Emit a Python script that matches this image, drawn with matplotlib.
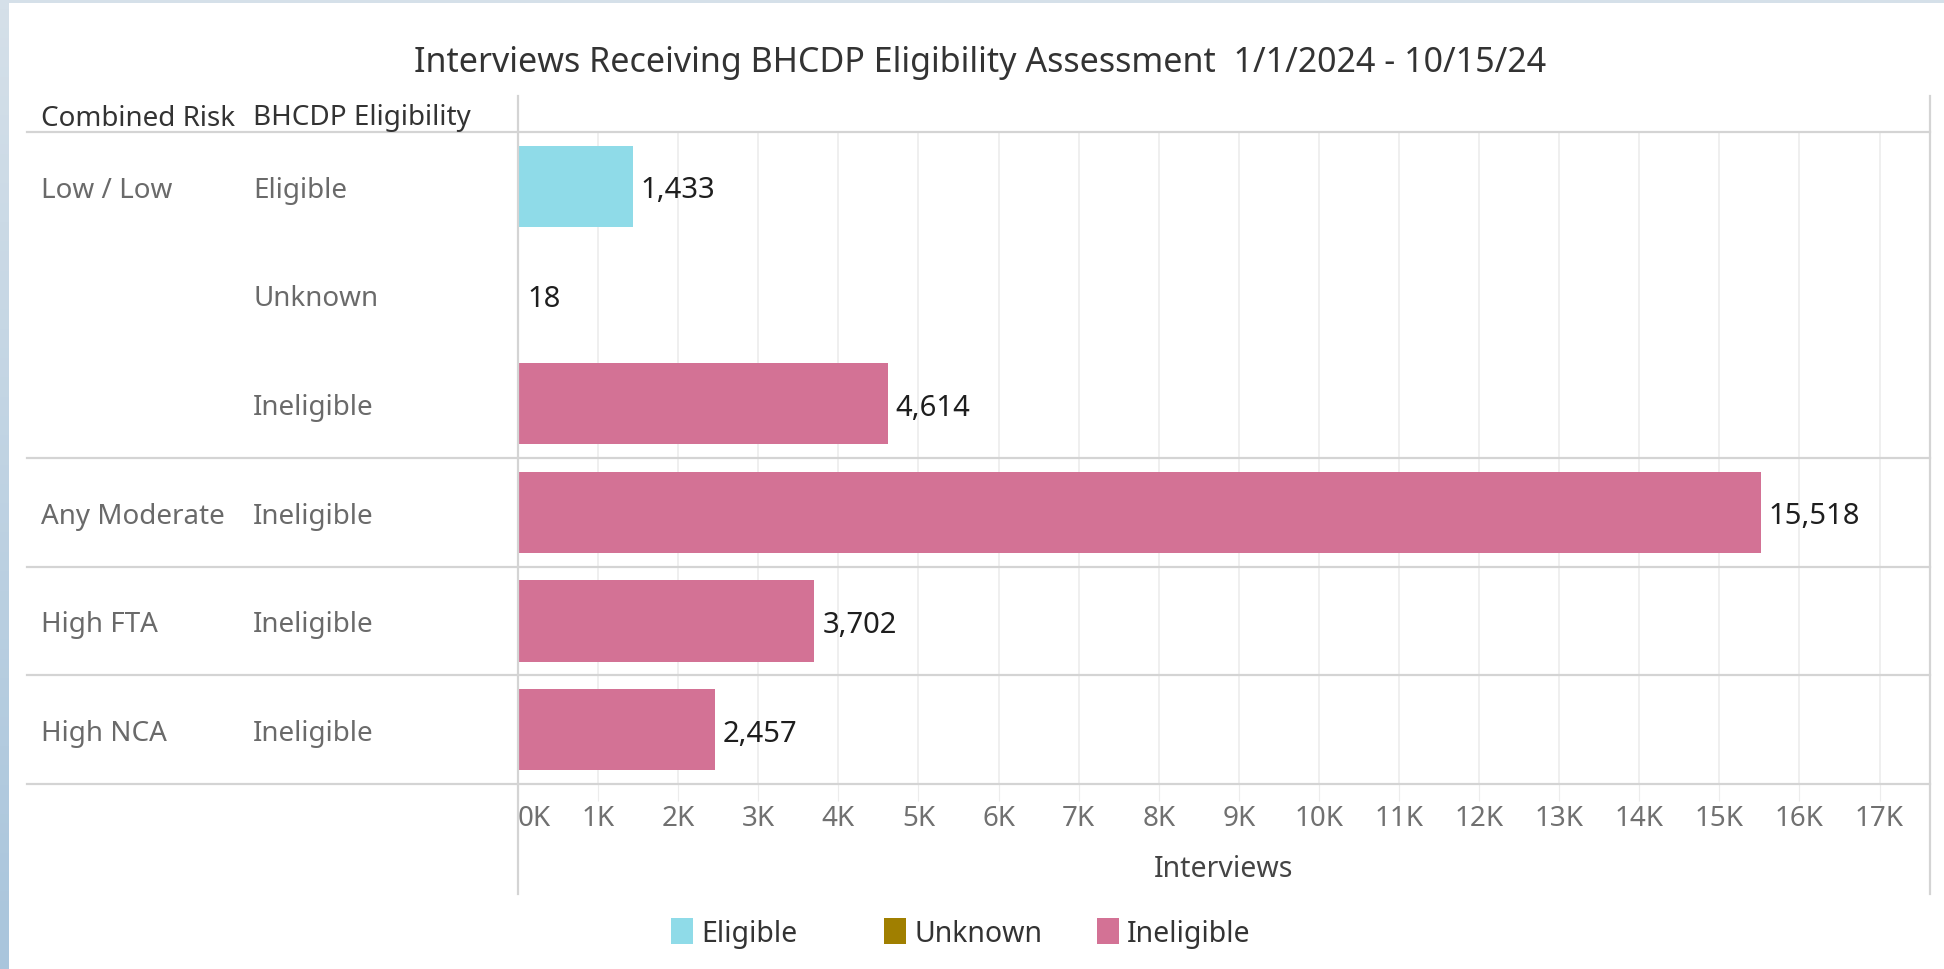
import matplotlib.pyplot as plt
import matplotlib.transforms as mtransforms
from matplotlib.lines import Line2D
from matplotlib.patches import Patch
from matplotlib.colors import LinearSegmentedColormap
import numpy as np

plt.rcParams['font.family'] = ['Noto Sans', 'DejaVu Sans']

# data
risk_groups = ['Low / Low', '', '', 'Any Moderate', 'High FTA', 'High NCA']
eligibility = ['Eligible', 'Unknown', 'Ineligible', 'Ineligible', 'Ineligible', 'Ineligible']
interviews = [1433, 18, 4614, 15518, 3702, 2457]
legend_labels = ['Eligible', 'Unknown', 'Ineligible']
colors = {'Eligible': '#8fdbe8', 'Unknown': '#a07f00', 'Ineligible': '#d37295'}
title = 'Interviews Receiving BHCDP Eligibility Assessment  1/1/2024 - 10/15/24'
group_ends = [2.5, 3.5, 4.5]

W, H = 1944, 970
fig = plt.figure(figsize=(W/100, H/100), dpi=100)
fig.patch.set_facecolor('white')

# blue-grey frame of the dashboard
top = fig.add_axes([0, 1 - 4/H, 1, 4/H])
top.set_axis_off()
top.add_patch(plt.Rectangle((0, 0), 1, 1, color='#d5e0e9', transform=top.transAxes))
side = fig.add_axes([0, 0, 8/W, 1])
side.imshow(np.linspace(0, 1, 100).reshape(-1, 1),
            cmap=LinearSegmentedColormap.from_list('bg', ['#d5e0e9', '#a9c5dc']),
            aspect='auto', extent=(0, 1, 0, 1))
side.set_axis_off()

x0, x1 = 518/W, 1930/W
y_top, y_bot = 1 - 133/H, 1 - 785/H
ax = fig.add_axes([x0, y_bot, x1 - x0, y_top - y_bot])

ypos = np.arange(len(interviews))
bar_cols = [colors[e] for e in eligibility]
ax.barh(ypos, interviews, height=0.75, color=bar_cols, zorder=3)
ax.set_ylim(len(interviews) - 0.5, -0.5)
ax.set_xlim(0, 17630)

for y, v in zip(ypos, interviews):
    ax.text(v + 100, y, '{:,}'.format(v), va='center_baseline', ha='left', fontsize=21, color='#1e1e1e', zorder=4)

ax.set_xticks(np.arange(0, 18000, 1000))
ax.set_xticklabels(['{}K'.format(k) for k in range(18)], fontsize=20, color='#707070')
ax.get_xticklabels()[0].set_horizontalalignment('left')
ax.tick_params(axis='x', length=12, color='#ececec', pad=2.5)
ax.tick_params(axis='y', left=False, labelleft=False)
ax.grid(axis='x', color='#ececec', lw=1.2, zorder=0)
for s in ax.spines.values():
    s.set_visible(False)
ax.set_xlabel('Interviews', fontsize=20.5, color='#444444', labelpad=16)

# left-side row headers
trans = mtransforms.blended_transform_factory(fig.transFigure, ax.transData)
for y, g, e in zip(ypos, risk_groups, eligibility):
    fig.text(41/W, y, g, transform=trans, va='center_baseline', ha='left', fontsize=20, color='#6a6a6a')
    fig.text(253/W, y, e, transform=trans, va='center_baseline', ha='left', fontsize=20, color='#6a6a6a')

# separators
for yy in [-0.5] + group_ends + [len(interviews) - 0.5]:
    fig.add_artist(Line2D([27/W, x1], [yy, yy], transform=trans, color='#d4d4d4', lw=1.6))
for xx in [x0, x1]:
    fig.add_artist(Line2D([xx, xx], [1 - 97/H, 1 - 895/H], color='#d4d4d4', lw=1.6))

fig.text(41/W, 1 - 115/H, 'Combined Risk', fontsize=20, color='#333333', va='center_baseline', ha='left')
fig.text(253/W, 1 - 115/H, 'BHCDP Eligibility', fontsize=20, color='#333333', va='center_baseline', ha='left')
fig.text(980/W, 1 - 63/H, title, fontsize=24.5, color='#333333', va='center', ha='center')

# legend: Tableau spaces the entries in equal-width columns
for i, lab in enumerate(legend_labels):
    fig.legend([Patch(facecolor=colors[lab], edgecolor='none')], [lab], loc='center left',
               bbox_to_anchor=((657 + i * 213) / W, 1 - 934/H), frameon=False,
               fontsize=20.5, handlelength=0.75, handleheight=1.05, handletextpad=0.3,
               borderpad=0, labelcolor='#333333')

fig.savefig('out.png', dpi=100)
